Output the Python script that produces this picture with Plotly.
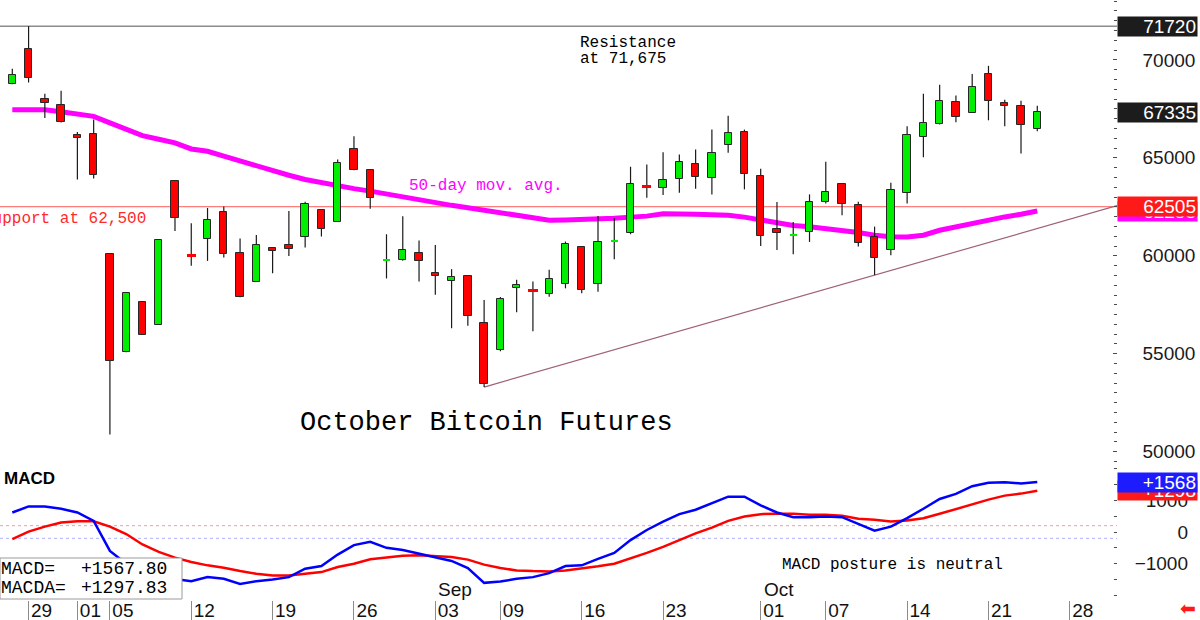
import pandas as pd
import plotly.graph_objects as go

# ---------------- data ----------------
# CME trading days (Labor Day 2024-09-02 closed)
trade_days = [d.strftime("%Y-%m-%d") for d in pd.bdate_range("2024-07-26", "2024-10-31")
              if d != pd.Timestamp("2024-09-02")]
n_bars = 64
days = trade_days[:n_bars]

opens = [68780, 70540, 68000, 67710, 66185, 66240, 60080, 55080, 57655, 56490,
         63810, 60040, 60880, 62250, 60130, 58675, 60420, 60555, 60965, 62335,
         61725, 65475, 64355, 59770, 59790, 60135, 59115, 58725, 58980, 56575,
         55215, 58340, 58235, 58050, 58555, 60425, 58555, 60740, 61150, 63545,
         63440, 63895, 64660, 63950, 65640, 66325, 64065, 61390, 61045, 61235,
         62765, 63645, 62590, 60985, 60300, 63220, 66050, 66730, 67850, 67290,
         69290, 67800, 67625, 66475]
highs = [69540, 71720, 68270, 68420, 66320, 66950, 60100, 58100, 57655, 60810,
         63810, 61660, 62440, 62510, 60880, 61065, 60420, 62285, 62765, 62335,
         64915, 66100, 64355, 61100, 62015, 60780, 60555, 59320, 58980, 57745,
         57895, 58775, 58695, 59285, 60730, 60425, 62030, 61915, 64545, 64660,
         65285, 65170, 65425, 66440, 67150, 66440, 64440, 62740, 61725, 63135,
         64795, 63645, 62765, 61490, 63730, 66610, 68270, 68730, 68185, 69275,
         69695, 67965, 67915, 67660]
lows = [68750, 68845, 67035, 66800, 63900, 63950, 50880, 55080, 55980, 56490,
        61270, 59490, 59740, 59915, 57880, 58675, 59115, 59995, 60420, 60985,
        61725, 64370, 62405, 58845, 59750, 58695, 58010, 56305, 56435, 53303,
        55135, 57115, 56150, 57910, 58340, 58085, 58165, 59830, 61100, 62965,
        63100, 63220, 63425, 63135, 65255, 63390, 60505, 60300, 60080, 60710,
        62675, 62065, 60475, 59014, 60030, 62675, 65030, 66695, 66810, 67290,
        66915, 66610, 65220, 66355]
closes = [69240, 69050, 67800, 66830, 66020, 64115, 54625, 58100, 55980, 60810,
          61950, 60000, 61850, 60100, 57880, 60555, 60270, 60335, 62625, 61390,
          64745, 64370, 62965, 59810, 60300, 59745, 58950, 58930, 56945, 53435,
          57795, 58520, 58195, 58810, 60625, 58270, 60710, 60780, 63645, 63505,
          63860, 64775, 64035, 65255, 66270, 64150, 61015, 61185, 61085, 62765,
          63250, 62660, 60675, 59865, 63335, 66185, 66780, 67915, 67085, 68640,
          67880, 67660, 66660, 67335]

ma50 = [67457, 67457, 67457, 67355, 67228, 67116, 66781, 66465, 66135, 65946,
        65763, 65453, 65336, 65087, 64828, 64578, 64319, 64110, 63897, 63724,
        63556, 63429, 63302, 63154, 62997, 62839, 62686, 62575, 62457, 62320,
        62168, 62040, 61913, 61812, 61827, 61842, 61878, 61913, 61974, 62025,
        62142, 62147, 62127, 62091, 62066, 61974, 61822, 61645, 61548, 61487,
        61395, 61273, 61186, 61049, 60972, 60962, 61049, 61303, 61481, 61684,
        61837, 61985, 62117, 62285]

macd = [613, 803, 803, 730, 613, 349, -593, -1000, -1280, -1400,
        -1480, -1545, -1418, -1471, -1630, -1545, -1492, -1418, -1153, -1069,
        -709, -413, -307, -497, -565, -677, -804, -910, -1132, -1598,
        -1556, -1471, -1418, -1291, -1069, -1048, -847, -656, -254, 63,
        328, 561, 698, 910, 1111, 1111, 836, 613, 466, 466,
        487, 466, 254, 42, 169, 434, 730, 1037, 1196, 1439,
        1545, 1566, 1524, 1567.80]
macda = [-222, 10, 169, 296, 339, 339, 169, -63, -392, -624,
         -804, -942, -1048, -1122, -1228, -1312, -1365, -1365, -1312, -1259,
         -1100, -995, -857, -804, -745, -730, -751, -783, -868, -1026,
         -1132, -1206, -1228, -1238, -1206, -1153, -1079, -995, -836, -656,
         -466, -254, -42, 138, 349, 487, 561, 571, 571, 540,
         540, 508, 413, 381, 328, 360, 434, 571, 720, 878,
         1016, 1143, 1206, 1297.83]

resistance_level = 71720
support_level = 62505
macd_bands = [200, -200]
trend_anchor_days = ["2024-09-06", "2024-10-10"]   # lows joined by the trend line

tick_days = ["2024-07-29", "2024-08-01", "2024-08-05", "2024-08-12", "2024-08-19",
             "2024-08-26", "2024-09-03", "2024-09-09", "2024-09-16", "2024-09-23",
             "2024-10-01", "2024-10-07", "2024-10-14", "2024-10-21", "2024-10-28"]
tick_text = ["29", "01", "05", "12", "19", "26", "03", "09", "16", "23",
             "01", "07", "14", "21", "28"]
month_days = ["2024-09-03", "2024-10-01"]
month_text = ["Sep", "Oct"]

# ---------------- geometry helpers ----------------
W, H = 1200, 620
PLOT_R = 1117
SPLIT = 465
PLOT_B = 599


def px(x):
    return x / W


def py(y):
    return (PLOT_B - y) / PLOT_B


pos = {d: i for i, d in enumerate(trade_days)}
xi = list(range(n_bars))
x_range = [-0.756, 67.9]
price_range = [49325, 73054]
macd_range = [-2105, 2105]

GREEN = "#00ee00"
RED = "#ff0000"
MONO = "Liberation Mono, DejaVu Sans Mono, monospace"
SANS = "Liberation Sans, Arial, sans-serif"

# ---------------- candles ----------------
wick_x, wick_y = [], []
for i in xi:
    wick_x += [i, i, None]
    wick_y += [lows[i], highs[i], None]

base, height, fill, edge, edge_w = [], [], [], [], []
for o, c in zip(opens, closes):
    col = GREEN if c >= o else RED
    base.append(min(o, c))
    height.append(abs(c - o))
    fill.append(col)
    doji = abs(c - o) < 60
    edge.append(col if doji else "#262626")
    edge_w.append(2 if doji else 1)

fig = go.Figure()

# level lines
fig.add_trace(go.Scatter(x=x_range, y=[resistance_level] * 2, mode="lines",
                         line=dict(color="#8c8c8c", width=1.5), hoverinfo="skip", zorder=0))
fig.add_trace(go.Scatter(x=x_range, y=[support_level] * 2, mode="lines",
                         line=dict(color="#ff5a5a", width=1), hoverinfo="skip", zorder=0))

# trend line through two lows, extended to right edge
ta, tb = pos[trend_anchor_days[0]], pos[trend_anchor_days[1]]
la, lb = lows[ta], lows[tb]
slope = (lb - la) / (tb - ta)
fig.add_trace(go.Scatter(x=[ta, x_range[1]], y=[la, la + slope * (x_range[1] - ta)], mode="lines",
                         line=dict(color="#a0607a", width=1.2), hoverinfo="skip", zorder=0))

# moving average
fig.add_trace(go.Scatter(x=xi, y=ma50, mode="lines", line=dict(color="#ff00ff", width=5),
                         hoverinfo="skip", zorder=1))

fig.add_trace(go.Scatter(x=wick_x, y=wick_y, mode="lines", line=dict(color="#1a1a1a", width=1.2),
                         hoverinfo="skip", zorder=2))
fig.add_trace(go.Bar(x=xi, y=height, base=base, width=0.45,
                     marker=dict(color=fill, line=dict(color=edge, width=edge_w)),
                     hoverinfo="skip", zorder=3))

# ---------------- MACD panel ----------------
band_cols = ["rgba(255,70,70,0.55)", "rgba(80,80,255,0.45)"]
for lvl, col in zip(macd_bands, band_cols):
    fig.add_trace(go.Scatter(x=x_range, y=[lvl, lvl], mode="lines", xaxis="x2", yaxis="y2",
                             line=dict(color=col, width=1, dash="dot"), hoverinfo="skip"))
fig.add_trace(go.Scatter(x=xi, y=macda, mode="lines", xaxis="x2", yaxis="y2",
                         line=dict(color="#ff0000", width=2.5), hoverinfo="skip"))
fig.add_trace(go.Scatter(x=xi, y=macd, mode="lines", xaxis="x2", yaxis="y2",
                         line=dict(color="#0000ff", width=2.5), hoverinfo="skip"))
# carrier for the right-aligned MACD scale labels
fig.add_trace(go.Scatter(x=xi, y=macd, mode="lines", xaxis="x2", yaxis="y3",
                         opacity=0, line=dict(width=1), hoverinfo="skip"))

tick_pos = [pos[d] for d in tick_days]

fig.update_layout(
    width=W, height=H, showlegend=False,
    margin=dict(l=0, r=0, t=0, b=H - PLOT_B, pad=0, autoexpand=False),
    paper_bgcolor="white", plot_bgcolor="white",
    bargap=0,
    xaxis=dict(domain=[0, px(PLOT_R)], range=x_range, anchor="y", showticklabels=False,
               ticks="", showgrid=False, zeroline=False, showline=True, automargin=False,
               linecolor="#4a4a4a", linewidth=2),
    yaxis=dict(domain=[py(SPLIT), 1], range=price_range, side="right", anchor="x",
               automargin=False,
               showgrid=False, zeroline=False, showline=True, linecolor="#4a4a4a", linewidth=1.5,
               ticks="inside", ticklen=4, tickcolor="#4a4a4a", tick0=0, dtick=5000,
               tickformat="d", minor=dict(ticks="inside", ticklen=3, dtick=500, tickcolor="#4a4a4a"),
               tickfont=dict(family=SANS, size=19, color="#1a1a1a"), ticklabelstandoff=20),
    xaxis2=dict(domain=[0, px(PLOT_R)], range=x_range, anchor="y2", matches="x",
                automargin=False,
                showgrid=False, zeroline=False, showline=True, linecolor="#666666", linewidth=1.5,
                ticks="outside", ticklen=21, tickcolor="#8c8c8c", tickwidth=1,
                tickmode="array", tickvals=tick_pos, ticktext=tick_text,
                tickfont=dict(family=SANS, size=19, color="#111111"),
                ticklabelstandoff=-28, ticklabelshift=13),
    yaxis2=dict(domain=[0, py(SPLIT)], range=macd_range, side="right", anchor="x2",
                automargin=False,
                showgrid=False, zeroline=False, showline=True, linecolor="#4a4a4a", linewidth=1.5,
                ticks="inside", ticklen=3, tickcolor="#4a4a4a", tick0=0, dtick=500,
                showticklabels=False),
    yaxis3=dict(overlaying="y2", range=macd_range, side="left", anchor="free", position=px(1188),
                automargin=False,
                showgrid=False, zeroline=False, showline=False, ticks="",
                tickmode="array", tickvals=[-1000, 0, 1000], tickformat="d",
                tickfont=dict(family=SANS, size=19, color="#1a1a1a")),
)

ann = []


def text(x, y, s, size=16, color="black", family=MONO, anchor="left", **kw):
    ann.append(dict(xref="paper", yref="paper", x=px(x), y=py(y), text=s, showarrow=False,
                    xanchor=anchor, yanchor="middle", font=dict(family=family, size=size, color=color), **kw))


text(578, 43, "Resistance")
text(578, 59, "at 71,675")
text(407, 186, "50-day mov. avg.", color="#ff00ff")
text(-19, 219, "Support at 62,500", color="#ff2a2a")
text(298, 423, "October Bitcoin Futures", size=27)
text(780, 565, "MACD posture is neutral")
text(2, 478, "<b>MACD</b>", size=17, family=SANS)
for d, s in zip(month_days, month_text):
    ann.append(dict(xref="x2", yref="paper", x=pos[d], y=py(589), text=s, showarrow=False,
                    xanchor="left", yanchor="middle", xshift=1,
                    font=dict(family=SANS, size=19, color="#111111")))

# MACD readout box
fig.add_shape(type="rect", xref="paper", yref="paper", x0=0, x1=px(182), y0=0, y1=py(558),
              line=dict(color="#9a9a9a", width=1), fillcolor="white", layer="above")
text(-1, 569, "MACD=", size=18)
text(79, 569, f"{macd[-1]:+.2f}", size=18)
text(-1, 588, "MACDA=", size=18)
text(79, 588, f"{macda[-1]:+.2f}", size=18)


def tag(yref, value, label, bg):
    ann.append(dict(xref="paper", yref=yref, x=px(PLOT_R), y=value, text=label, showarrow=False,
                    xanchor="left", yanchor="middle", align="right", width=77, height=17,
                    borderpad=1, bgcolor=bg,
                    font=dict(family=SANS, size=19, color="white")))


tag("y", resistance_level, f"{resistance_level}", "#1c1c1c")
tag("y", closes[-1], f"{closes[-1]}", "#1c1c1c")
tag("y", ma50[-1], f"{ma50[-1]}", "#ff00ff")
tag("y", support_level, f"{support_level}", "#ff1a1a")
tag("y2", macda[-1], f"{macda[-1]:+.0f}", "#ff1a1a")
tag("y2", macd[-1], f"{macd[-1]:+.0f}", "#1c1cff")

ann.append(dict(xref="paper", yref="paper", x=px(1198), y=py(608), text="⬅", showarrow=False,
                xanchor="right", yanchor="middle",
                font=dict(family="DejaVu Sans", size=19, color="#ff1a1a")))

fig.update_layout(annotations=ann)
fig.write_html("out.html")
